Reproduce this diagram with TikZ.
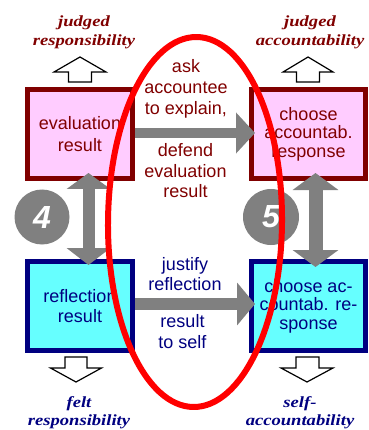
\documentclass[tikz,border=0pt]{standalone}
\usepackage{fontspec}
\setmainfont{Liberation Sans}
\newfontfamily\lblfont[FakeStretch=1.2]{Liberation Serif}
\usetikzlibrary{arrows.meta}
\definecolor{evalred}{RGB}{128,0,0}
\definecolor{reflblue}{RGB}{0,0,128}
\definecolor{evalpink}{RGB}{255,204,255}
\definecolor{reflcyan}{RGB}{102,255,255}
\definecolor{linkgray}{RGB}{128,128,128}
\begin{document}
\begin{tikzpicture}[x=1pt,y=1pt,
  resbox/.style={draw, line width=5pt, inner sep=0pt, minimum height=89pt, align=center, font=\fontsize{18}{21}\selectfont},
  evalbox/.style={resbox, draw=evalred, fill=evalpink, text=evalred},
  reflbox/.style={resbox, draw=reflblue, fill=reflcyan, text=reflblue},
  midtext/.style={align=center, anchor=base, inner sep=0pt, font=\fontsize{18}{21}\selectfont},
  sidelabel/.style={align=center, anchor=base, inner sep=0pt, font=\lblfont\bfseries\itshape\fontsize{15.5}{19}\selectfont},
  hollow/.style={draw=black, fill=white, line width=1.2pt, line join=miter},
  link/.style={draw=linkgray, line width=#1},
  stepnum/.style={circle, fill=linkgray, minimum size=55pt, inner sep=0pt, text=white, font=\bfseries\itshape\fontsize{32}{32}\selectfont}]
\useasboundingbox (0,0) rectangle (368,-430);

\node[evalbox, minimum width=105pt, font=\fontsize{18}{22}\selectfont] (evalres) at (80,-134) {evaluation\\result};
\node[evalbox, minimum width=114pt, font=\fontsize{18}{18.5}\selectfont] (acctresp) at (308.5,-134) {choose\\accountab.\\response};
\node[reflbox, minimum width=105pt, font=\fontsize{18}{20}\selectfont] (reflres) at (80,-306) {reflection\\result};
\node[reflbox, minimum width=114pt, font=\fontsize{18}{18.5}\selectfont] (selfresp) at (308.5,-306) {choose ac-\\countab. re-\\sponse};

\node[midtext, text=evalred] (asktxt) at (186,-115) {ask\\accountee\\to explain,};
\node[midtext, text=evalred, font=\fontsize{18}{20}\selectfont] (deftxt) at (185.5,-197) {defend\\evaluation\\result};
\node[midtext, text=reflblue, font=\fontsize{18}{20}\selectfont] (justtxt) at (185,-290) {justify\\reflection};
\node[midtext, text=reflblue] (selftxt) at (182.5,-348) {result\\to self};

\node[sidelabel, text=evalred] (judgedresp) at (84,-46) {judged\\responsibility};
\node[sidelabel, text=evalred] (judgedacct) at (310,-46) {judged\\accountability};
\node[sidelabel, text=reflblue, font=\lblfont\bfseries\itshape\fontsize{15.5}{18}\selectfont] (feltresp) at (79,-425) {felt\\responsibility};
\node[sidelabel, text=reflblue, font=\lblfont\bfseries\itshape\fontsize{15.5}{18}\selectfont] (selfacct) at (300,-425) {self-\\accountability};

\node[stepnum] (stepfour) at (42,-217) {4};
\node[stepnum, minimum size=56pt] (stepfive) at (271,-217) {5};

\draw[link=10pt, -{Triangle[length=19pt,width=40pt]}, shorten >=-6pt] ([yshift=1pt]evalres.east) -- ([yshift=1pt]acctresp.west);
\draw[link=12pt, -{Triangle[length=18pt,width=42pt]}, shorten >=-6pt] ([yshift=2pt]reflres.east) -- ([yshift=2pt]selfresp.west);
\draw[link=12pt, {Triangle[length=16pt,width=43pt]}-{Triangle[length=17pt,width=43pt]}, shorten <=-8pt, shorten >=-6pt] ([xshift=8.5pt]evalres.south) -- ([xshift=8.5pt]reflres.north);
\draw[link=14pt, {Triangle[length=17pt,width=45pt]}-{Triangle[length=17pt,width=45pt]}, shorten <=-8pt, shorten >=-8pt] ([xshift=7pt]acctresp.south) -- ([xshift=7pt]selfresp.north);

\draw[hollow] ([shift={(-11.5,5)}]evalres.north) -- ++(0,10) -- ++(-14.5,0) -- ++(26,15) -- ++(26,-15) -- ++(-14.5,0) -- ++(0,-10) -- cycle;
\draw[hollow] ([shift={(-12,5)}]acctresp.north) -- ++(0,10) -- ++(-13.5,0) -- ++(25,15) -- ++(25,-15) -- ++(-13.5,0) -- ++(0,-10) -- cycle;
\draw[hollow] ([shift={(-15,-4)}]reflres.south) -- ++(0,-11) -- ++(-14.5,0) -- ++(25.5,-14) -- ++(25.5,14) -- ++(-14.5,0) -- ++(0,11) -- cycle;
\draw[hollow] ([shift={(-12.5,-4)}]selfresp.south) -- ++(0,-11) -- ++(-15,0) -- ++(26,-14) -- ++(26,14) -- ++(-14,0) -- ++(0,11) -- cycle;

\draw[red, line width=6pt, rotate around={-0.5:(195,-222)}] (195,-222) ellipse [x radius=87pt, y radius=185pt];
\end{tikzpicture}
\end{document}
